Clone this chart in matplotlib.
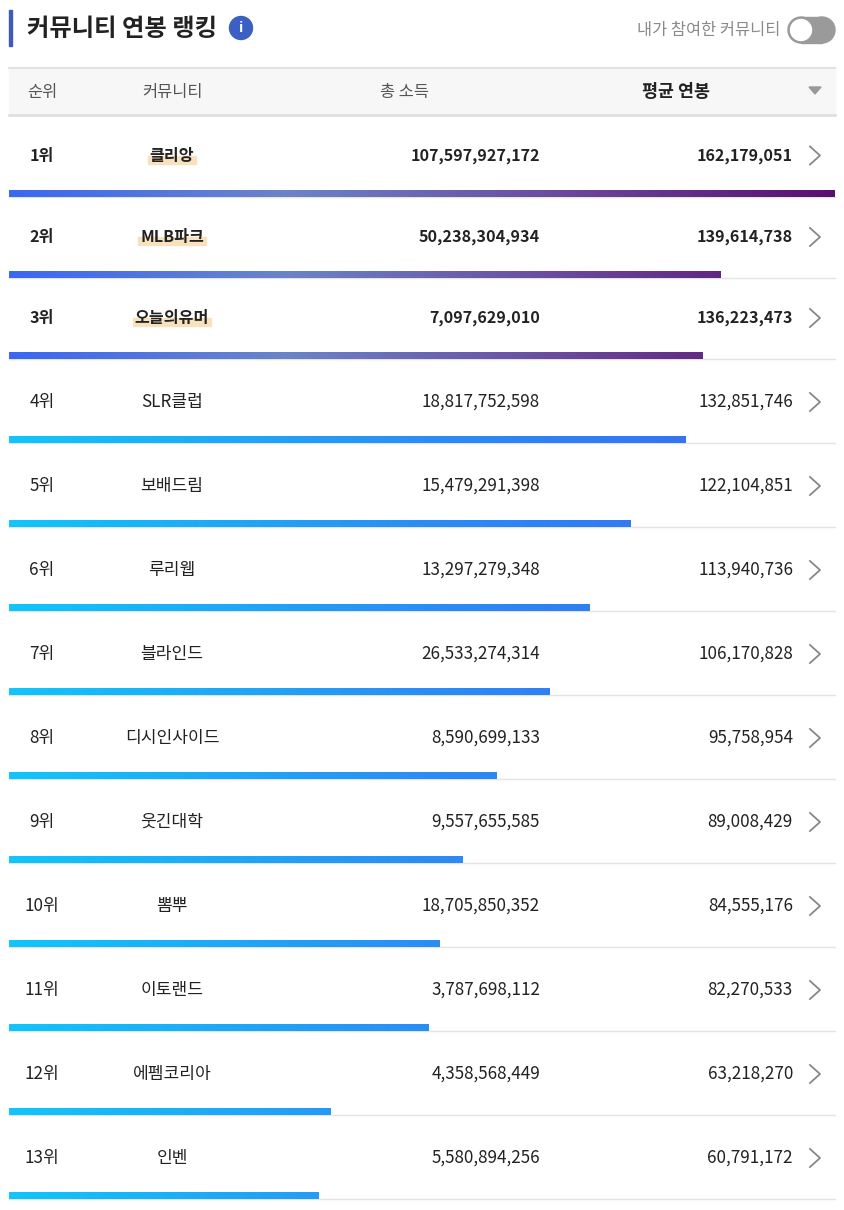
import numpy as np
import matplotlib.pyplot as plt
from matplotlib import font_manager
from matplotlib.patches import Rectangle, Circle
from matplotlib.colors import LinearSegmentedColormap

names = {f.name for f in font_manager.fontManager.ttflist}
cjk = [n for n in ["Noto Sans CJK KR", "Noto Sans CJK JP", "Noto Sans CJK SC"] if n in names]
plt.rcParams["font.family"] = cjk + ["DejaVu Sans"]

# Data
ranks = ["1위", "2위", "3위", "4위", "5위", "6위", "7위", "8위", "9위", "10위", "11위", "12위", "13위"]
communities = ["클리앙", "MLB파크", "오늘의유머", "SLR클럽", "보배드림", "루리웹", "블라인드",
               "디시인사이드", "웃긴대학", "뽐뿌", "이토랜드", "에펨코리아", "인벤"]
total_income = [107597927172, 50238304934, 7097629010, 18817752598, 15479291398, 13297279348,
                26533274314, 8590699133, 9557655585, 18705850352, 3787698112, 4358568449, 5580894256]
avg_salary = [162179051, 139614738, 136223473, 132851746, 122104851, 113940736, 106170828,
              95758954, 89008429, 84555176, 82270533, 63218270, 60791172]

W, H = 844, 1210
fig = plt.figure(figsize=(W / 100, H / 100), dpi=100)
ax = fig.add_axes([0, 0, 1, 1])
ax.set_xlim(0, W)
ax.set_ylim(H, 0)
ax.axis("off")

# Title
ax.add_patch(Rectangle((9, 10), 3, 36, color="#3f5bb5"))
ax.text(27, 29, "커뮤니티 연봉 랭킹", fontsize=17.5, fontweight="bold", color="#222222", va="center")
ax.add_patch(Circle((241, 28), 11.5, color="#3c5fc4"))
ax.text(241, 28, "i", fontsize=10, fontweight="bold", color="white", ha="center", va="center")
ax.text(780, 30, "내가 참여한 커뮤니티", fontsize=11.8, color="#8a8a8a", ha="right", va="center")
# toggle
ax.add_patch(Rectangle((801, 17), 21, 26, color="#9a9a9a"))
ax.add_patch(Circle((801, 30), 13, color="#9a9a9a"))
ax.add_patch(Circle((822, 30), 13, color="#9a9a9a"))
ax.add_patch(Circle((801, 30), 10.5, color="white"))

# Header band
ax.add_patch(Rectangle((9, 68), 826, 47, color="#f7f7f7", zorder=0))
ax.plot([9, 835], [68, 68], color="#e2e2e2", lw=1.5)
ax.plot([9, 835], [115, 115], color="#dddddd", lw=1.8)
hy = 92
ax.text(42, hy, "순위", fontsize=11.8, color="#555555", ha="center", va="center")
ax.text(172, hy, "커뮤니티", fontsize=11.8, color="#555555", ha="center", va="center")
ax.text(405, hy, "총 소득", fontsize=11.8, color="#555555", ha="center", va="center")
ax.text(676, hy, "평균 연봉", fontsize=12.5, fontweight="bold", color="#222222", ha="center", va="center")
ax.fill([809, 821, 815], [87, 87, 94], color="#999999")

top_cmap = LinearSegmentedColormap.from_list("top", ["#3a68f2", "#6b84c8", "#6a4a9e", "#5a0f6e"])
low_cmap = LinearSegmentedColormap.from_list("low", ["#10c6fa", "#2a8ef6", "#3a66f2"])

row_bottoms = [197, 278, 359] + [443 + 84 * i for i in range(10)]
row_tops = [115] + row_bottoms[:-1]
vmax = max(avg_salary)
full = 826
renderer = fig.canvas.get_renderer()

for i in range(len(ranks)):
    top, bot = row_tops[i], row_bottoms[i]
    cy = (top + bot) / 2 - 0.5 if i < 3 else (top + bot) / 2 + 1
    bold = "bold" if i < 3 else "normal"
    fs = 11.6 if i < 3 else 12.3
    col = "#222222"
    ax.text(42, cy, ranks[i], fontsize=fs, fontweight=bold, color=col, ha="center", va="center")
    t = ax.text(172, cy, communities[i], fontsize=fs, fontweight=bold, color=col,
                ha="center", va="center", zorder=3)
    if i < 3:
        bb = t.get_window_extent(renderer)
        ax.add_patch(Rectangle((bb.x0 - 2, cy), bb.width + 4, 8, color="#f8e2bd", zorder=2))
    ax.text(540, cy, f"{total_income[i]:,}", fontsize=fs, fontweight=bold, color=col,
            ha="right", va="center")
    ax.text(793, cy, f"{avg_salary[i]:,}", fontsize=fs, fontweight=bold, color=col,
            ha="right", va="center")
    ax.plot([810, 820, 810], [cy - 9, cy, cy + 9], color="#888888", lw=1.3)

    # separator and bar
    ax.plot([9, 835], [bot, bot], color="#e4e4e4", lw=1)
    bars = ax.barh(bot - 3.5, avg_salary[i] / vmax * full, height=7, left=9, color="none")
    grad = np.linspace(0, 1, 256).reshape(1, -1)
    cmap = top_cmap if i < 3 else low_cmap
    im = ax.imshow(grad, cmap=cmap, aspect="auto", extent=(9, 9 + full, bot, bot - 7), zorder=2)
    im.set_clip_path(bars[0])

ax.set_xlim(0, W)
ax.set_ylim(H, 0)
fig.savefig("out.png", dpi=100)
